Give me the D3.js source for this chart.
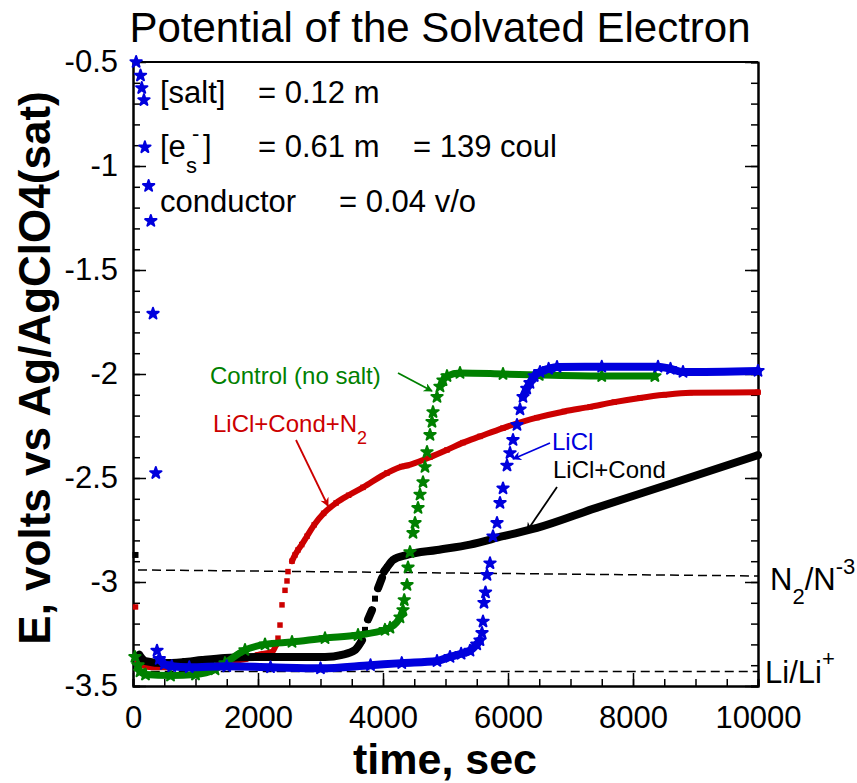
<!DOCTYPE html>
<html>
<head>
<meta charset="utf-8">
<script src="https://cdn.jsdelivr.net/npm/d3@7"></script>
<style>
  body { margin: 0; background: #fff; }
  svg { display: block; font-family: "Liberation Sans", Arial, sans-serif; }
</style>
</head>
<body>
<div id="chart"></div>
<script>
// series: [time (s), E (V)]
var licl = [[50,-0.5],[120,-0.565],[140,-0.625],[175,-0.683],[190,-0.91],[250,-1.096],[285,-1.264],
  [320,-1.71],[365,-2.476],[384,-3.33],[420,-3.37],[500,-3.395],[620,-3.405],[900,-3.41],[1500,-3.405],
  [2200,-3.41],[3000,-3.415],[3800,-3.40],[4300,-3.39],[4864,-3.38],[5072,-3.36],[5250,-3.345],
  [5392,-3.33],[5500,-3.30],[5552,-3.28],[5584,-3.245],[5600,-3.19],[5616,-3.10],[5640,-3.05],
  [5664,-2.966],[5712,-2.91],[5760,-2.78],[5824,-2.716],[5872,-2.62],[5920,-2.55],[5984,-2.44],
  [6032,-2.38],[6080,-2.317],[6144,-2.245],[6192,-2.17],[6240,-2.11],[6300,-2.07],[6352,-2.043],
  [6420,-2.01],[6512,-1.99],[6650,-1.975],[6784,-1.966],[7500,-1.965],[8400,-1.965],[8600,-1.975],
  [8800,-1.99],[10000,-1.985]];

var control = [[30,-3.36],[80,-3.40],[112,-3.43],[200,-3.445],[600,-3.45],[1000,-3.445],[1312,-3.42],
  [1472,-3.39],[1792,-3.327],[2112,-3.30],[2544,-3.288],[3072,-3.27],[3600,-3.255],[4032,-3.23],
  [4112,-3.22],[4272,-3.17],[4320,-3.135],[4340,-3.087],[4384,-3.014],[4400,-2.93],[4432,-2.856],
  [4480,-2.764],[4512,-2.716],[4560,-2.644],[4592,-2.58],[4640,-2.52],[4672,-2.447],[4704,-2.375],
  [4752,-2.293],[4784,-2.23],[4800,-2.183],[4864,-2.11],[4912,-2.06],[4960,-2.03],[5024,-2.01],
  [5232,-1.995],[5920,-2.0],[6500,-2.005],[7500,-2.01],[8350,-2.01]];

var liclCondN2 = [[40,-3.12],[80,-3.385],[150,-3.40],[304,-3.41],[500,-3.41],[800,-3.40],[1100,-3.39],
  [1500,-3.38],[1800,-3.37],[2000,-3.35],[2224,-3.337],[2290,-3.30],[2320,-3.27],[2352,-3.207],
  [2384,-3.11],[2432,-3.04],[2464,-2.995],[2480,-2.95],[2544,-2.90],[2592,-2.87],[2640,-2.846],
  [2700,-2.82],[2784,-2.78],[2900,-2.725],[3050,-2.67],[3250,-2.62],[3450,-2.583],[3680,-2.545],
  [4064,-2.476],[4300,-2.445],[4384,-2.44],[4752,-2.40],[5024,-2.365],[5280,-2.33],[5552,-2.30],
  [5920,-2.26],[6464,-2.21],[6900,-2.18],[7312,-2.158],[7700,-2.135],[8112,-2.115],[8500,-2.10],
  [8912,-2.09],[10000,-2.088]];

var liclCond = [[40,-2.87],[100,-3.35],[200,-3.38],[500,-3.39],[800,-3.385],[1104,-3.375],[1472,-3.365],
  [2000,-3.36],[2544,-3.36],[3072,-3.36],[3344,-3.35],[3552,-3.327],[3664,-3.28],[3712,-3.23],
  [3760,-3.18],[3824,-3.135],[3872,-3.08],[3920,-3.03],[3984,-2.98],[4016,-2.95],[4064,-2.93],
  [4160,-2.894],[4384,-2.87],[4864,-2.846],[5392,-2.82],[5920,-2.78],[6464,-2.74],[7400,-2.645],
  [8640,-2.524],[10000,-2.39]];

// dashed reference levels: [t0, v0, t1, v1]
var n2Level = [80, -2.942, 10000, -2.971];
var liLevel = [60, -3.43, 10000, -3.43];

var xMajor = [0, 2000, 4000, 6000, 8000, 10000];
var yMajor = [-3.5, -3, -2.5, -2, -1.5, -1, -0.5];

var W = 857, H = 783;
var plotL = 133, plotR = 758, plotT = 62, plotB = 686;

var svg = d3.select('#chart').append('svg')
  .attr('width', W).attr('height', H);

var x = d3.scaleLinear().domain([0, 10000]).range([plotL, plotR]);
var y = d3.scaleLinear().domain([-3.5, -0.5]).range([plotB, plotT]);

// title
svg.append('text')
  .attr('x', 440).attr('y', 42)
  .attr('text-anchor', 'middle')
  .style('font-size', '42px')
  .text('Potential of the Solvated Electron');

// axes: major ticks longer, all pointing inward
var fmt = function(d) { return String(d); };
var yMinor = d3.range(-35, -4, 1).map(function(d) { return d / 10; });

svg.append('g').attr('transform', 'translate(0,' + plotB + ')')
  .call(d3.axisBottom(x).tickValues(d3.range(0, 10001, 500)).tickSize(-7).tickFormat(''));
var xAx = svg.append('g').attr('transform', 'translate(0,' + plotB + ')')
  .call(d3.axisBottom(x).tickValues(xMajor).tickSizeInner(-13).tickSizeOuter(0).tickPadding(20).tickFormat(fmt));

svg.append('g').attr('transform', 'translate(' + plotL + ',0)')
  .call(d3.axisLeft(y).tickValues(yMinor).tickSize(-7).tickFormat(''));
var yAx = svg.append('g').attr('transform', 'translate(' + plotL + ',0)')
  .call(d3.axisLeft(y).tickValues(yMajor).tickSizeInner(-13).tickSizeOuter(0).tickPadding(15).tickFormat(fmt));

svg.append('g').attr('transform', 'translate(' + plotR + ',0)')
  .call(d3.axisRight(y).tickValues(yMinor).tickSize(-7).tickFormat(''));
svg.append('g').attr('transform', 'translate(' + plotR + ',0)')
  .call(d3.axisRight(y).tickValues(yMajor).tickSizeInner(-13).tickSizeOuter(0).tickFormat(''));

svg.selectAll('.domain').attr('stroke', '#000').attr('stroke-width', 2);
svg.selectAll('.tick line').attr('stroke', '#000').attr('stroke-width', 1.5);
xAx.selectAll('text').style('font-size', '31px').attr('fill', '#000');
yAx.selectAll('text').style('font-size', '31px').attr('fill', '#000');

svg.append('line')
  .attr('x1', plotL).attr('x2', plotR).attr('y1', plotT).attr('y2', plotT)
  .attr('stroke', '#000').attr('stroke-width', 2);

// axis titles
svg.append('text')
  .attr('x', 445).attr('y', 774)
  .attr('text-anchor', 'middle')
  .style('font-size', '43px').style('font-weight', 'bold')
  .text('time, sec');

svg.append('text')
  .attr('transform', 'translate(50,368) rotate(-90)')
  .attr('text-anchor', 'middle')
  .style('font-size', '44px').style('font-weight', 'bold')
  .text('E, volts vs Ag/AgClO4(sat)');

// dashed levels
[n2Level, liLevel].forEach(function(l) {
  svg.append('line')
    .attr('x1', x(l[0])).attr('y1', y(l[1])).attr('x2', x(l[2])).attr('y2', y(l[3]))
    .attr('stroke', '#000').attr('stroke-width', 1.5).attr('stroke-dasharray', '9,5');
});

// data: thick smooth trace where the curve is slow, bare markers where it jumps
function drawSeries(data, color, width, symbol, size) {
  var g = svg.append('g');
  var line = d3.line().curve(d3.curveMonotoneX)
    .x(function(d) { return x(d[0]); }).y(function(d) { return y(d[1]); });
  // split into runs of gentle segments
  var runs = [], run = [data[0]];
  for (var i = 1; i < data.length; i++) {
    var dx = Math.abs(x(data[i][0]) - x(data[i - 1][0]));
    var dy = Math.abs(y(data[i][1]) - y(data[i - 1][1]));
    if (dy <= 2.6 * dx) {
      run.push(data[i]);
    } else {
      if (run.length > 1) runs.push(run);
      run = [data[i]];
    }
  }
  if (run.length > 1) runs.push(run);
  g.selectAll('path.run').data(runs).enter().append('path')
    .attr('class', 'run')
    .attr('d', line)
    .attr('fill', 'none').attr('stroke', color)
    .attr('stroke-width', width).attr('stroke-linecap', 'round').attr('stroke-linejoin', 'round');
  g.selectAll('path.pt').data(data).enter().append('path')
    .attr('class', 'pt')
    .attr('d', d3.symbol().type(symbol).size(size))
    .attr('transform', function(d) { return 'translate(' + x(d[0]) + ',' + y(d[1]) + ')'; })
    .attr('fill', color)
    .attr('stroke', color).attr('stroke-width', symbol === d3.symbolStar ? 2 : 0)
    .attr('stroke-linejoin', 'round');
}

drawSeries(liclCondN2, '#cc0000', 6, d3.symbolSquare, 30);
drawSeries(liclCond, '#000000', 8, d3.symbolSquare, 36);
drawSeries(control, '#008000', 7, d3.symbolStar, 40);
drawSeries(licl, '#0000dd', 8, d3.symbolStar, 40);

// condition text block
var info = svg.append('g').style('font-size', '31px').attr('fill', '#000');
info.append('text').attr('x', 160).attr('y', 103).text('[salt]');
info.append('text').attr('x', 258).attr('y', 103).text('= 0.12 m');
info.append('text').attr('x', 160).attr('y', 157).text('[e');
info.append('text').attr('x', 186).attr('y', 173).style('font-size', '22px').text('s');
info.append('text').attr('x', 192).attr('y', 141).style('font-size', '22px').text('-');
info.append('text').attr('x', 203).attr('y', 157).text(']');
info.append('text').attr('x', 258).attr('y', 157).text('= 0.61 m');
info.append('text').attr('x', 413).attr('y', 157).text('= 139 coul');
info.append('text').attr('x', 160).attr('y', 212).text('conductor');
info.append('text').attr('x', 339).attr('y', 212).text('= 0.04 v/o');

// series labels with arrows
var defs = svg.append('defs');
function marker(id, color) {
  defs.append('marker').attr('id', id)
    .attr('viewBox', '0 0 10 10').attr('refX', 9).attr('refY', 5)
    .attr('markerWidth', 12).attr('markerHeight', 9).attr('orient', 'auto')
    .attr('markerUnits', 'userSpaceOnUse')
    .append('path').attr('d', 'M0,0 L10,5 L0,10 L3,5 Z').attr('fill', color);
}
marker('ag', '#008000'); marker('ar', '#cc0000'); marker('ab', '#0000dd'); marker('ak', '#000');

function arrow(x1, y1, x2, y2, color, id) {
  svg.append('line').attr('x1', x1).attr('y1', y1).attr('x2', x2).attr('y2', y2)
    .attr('stroke', color).attr('stroke-width', 1.8)
    .attr('marker-end', 'url(#' + id + ')');
}

svg.append('text').attr('x', 210).attr('y', 384).attr('fill', '#008000')
  .style('font-size', '24px').text('Control (no salt)');
arrow(398, 373, 432, 391, '#008000', 'ag');

var n2lab = svg.append('text').attr('x', 213).attr('y', 432).attr('fill', '#cc0000').style('font-size', '24px');
n2lab.append('tspan').text('LiCl+Cond+N');
n2lab.append('tspan').attr('dy', 12).style('font-size', '18px').text('2');
arrow(296, 440, 328, 506, '#cc0000', 'ar');

svg.append('text').attr('x', 552).attr('y', 450).attr('fill', '#0000dd')
  .style('font-size', '24px').text('LiCl');
arrow(550, 443, 513, 459, '#0000dd', 'ab');

svg.append('text').attr('x', 553).attr('y', 478).attr('fill', '#000')
  .style('font-size', '24px').text('LiCl+Cond');
arrow(557, 487, 527, 531, '#000', 'ak');

// level labels on the right
var nl = svg.append('text').attr('x', 770).attr('y', 590).style('font-size', '31px');
nl.append('tspan').text('N');
nl.append('tspan').attr('dy', 14).style('font-size', '22px').text('2');
nl.append('tspan').attr('dy', -14).text('/N');
nl.append('tspan').attr('dy', -16).style('font-size', '22px').text('-3');

var ll = svg.append('text').attr('x', 765).attr('y', 683).style('font-size', '31px');
ll.append('tspan').text('Li/Li');
ll.append('tspan').attr('dy', -17).style('font-size', '22px').text('+');
</script>
</body>
</html>
